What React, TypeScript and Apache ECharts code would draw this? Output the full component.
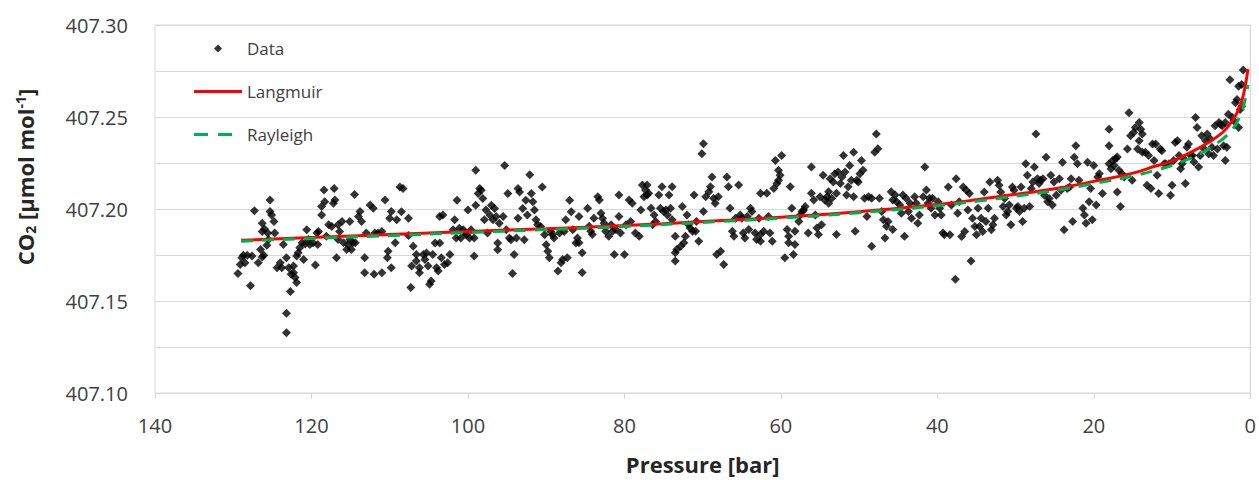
import React, { useEffect, useRef } from "react";
import * as echarts from "echarts";

// Measured points [pressure (bar), CO2 (µmol/mol)], grouped by pressure range
const data130to109: [number, number][] = [
  [129.4, 407.1649], [129.1, 407.1699], [128.9, 407.1735], [128.7, 407.1749], [128.5, 407.1708],
  [128.2, 407.1749], [127.8, 407.1583], [127.3, 407.199], [127.6, 407.1744], [126.8, 407.1708],
  [126.5, 407.178], [126.3, 407.1739], [126.1, 407.1749], [126.3, 407.1878], [126.3, 407.1923],
  [126.0, 407.1891], [125.7, 407.1803], [125.5, 407.1834], [125.6, 407.187], [125.3, 407.2049],
  [125.3, 407.1986], [124.8, 407.1932], [124.7, 407.187], [125.1, 407.1968], [124.4, 407.1681],
  [124.0, 407.1708], [123.8, 407.1681], [123.6, 407.1807], [123.2, 407.1735], [122.9, 407.1681],
  [123.2, 407.1434], [123.2, 407.1328], [122.7, 407.1552], [122.6, 407.1646], [122.3, 407.1654],
  [122.1, 407.1628], [121.9, 407.1601], [122.3, 407.169], [121.9, 407.1744], [121.7, 407.1762],
  [121.5, 407.1789], [121.2, 407.1816], [121.0, 407.1726], [120.8, 407.181], [120.6, 407.1887],
  [120.4, 407.1834], [120.2, 407.1807], [119.8, 407.1816], [119.5, 407.1696], [119.3, 407.187],
  [119.1, 407.1878], [119.2, 407.1807], [118.7, 407.1968], [118.7, 407.2013], [118.4, 407.2103],
  [118.3, 407.204], [118.1, 407.1852], [117.8, 407.1914], [117.4, 407.1905], [117.2, 407.2031],
  [117.1, 407.2111], [117.0, 407.2049], [116.8, 407.1735], [116.6, 407.1834], [116.4, 407.1878],
  [116.6, 407.1914], [116.1, 407.1932], [115.9, 407.1816], [115.5, 407.178], [115.3, 407.1807],
  [115.1, 407.1932], [115.1, 407.1834], [114.9, 407.178], [114.7, 407.1816], [114.5, 407.2079],
  [114.4, 407.1816], [114.0, 407.1959], [113.8, 407.1986], [113.6, 407.1932], [113.2, 407.1735],
  [113.2, 407.1654], [113.0, 407.187], [112.5, 407.2022], [112.1, 407.2004], [112.0, 407.1646],
  [111.9, 407.187], [111.5, 407.187], [111.0, 407.1654], [111.0, 407.1878], [110.6, 407.2049],
  [110.3, 407.1735], [110.2, 407.1771], [109.8, 407.1681], [110.0, 407.195], [109.8, 407.1986],
  [109.3, 407.1816], [109.1, 407.1941],
];

const data109to86: [number, number][] = [
  [108.7, 407.212], [108.3, 407.2111], [108.5, 407.1985], [107.6, 407.195], [107.6, 407.1856],
  [107.3, 407.1573], [107.0, 407.1797], [106.6, 407.1753], [106.6, 407.1717], [107.2, 407.169],
  [106.2, 407.1681], [106.2, 407.1654], [105.7, 407.1753], [105.5, 407.1726], [105.3, 407.1761],
  [105.1, 407.169], [104.9, 407.1591], [104.7, 407.1609], [104.5, 407.1753], [104.2, 407.1815],
  [104.0, 407.1681], [103.8, 407.1663], [103.6, 407.1959], [103.6, 407.1815], [103.4, 407.1735],
  [103.2, 407.1968], [103.0, 407.1699], [102.6, 407.1708], [102.3, 407.1753], [101.9, 407.1887],
  [101.7, 407.1941], [101.5, 407.1842], [101.4, 407.2048], [101.1, 407.1896], [100.9, 407.1842],
  [100.6, 407.1887], [100.4, 407.1869], [100.2, 407.186], [100.0, 407.1994], [99.8, 407.1842],
  [99.6, 407.1887], [99.2, 407.1744], [99.2, 407.1842], [99.0, 407.221], [99.0, 407.2021],
  [98.7, 407.2084], [98.5, 407.2111], [98.3, 407.2102], [98.1, 407.2057], [97.9, 407.1941],
  [97.7, 407.1994], [97.5, 407.1869], [97.2, 407.1968], [97.0, 407.2021], [96.8, 407.1941],
  [96.6, 407.2003], [96.4, 407.1959], [96.2, 407.1815], [96.2, 407.1779], [96.0, 407.1923],
  [95.5, 407.1959], [95.3, 407.2236], [95.1, 407.1887], [94.9, 407.2084], [94.7, 407.1842],
  [94.5, 407.1833], [94.3, 407.1649], [94.1, 407.1753], [93.8, 407.1842], [93.6, 407.2111],
  [93.6, 407.195], [93.4, 407.2093], [93.0, 407.2003], [92.8, 407.1833], [92.6, 407.2048],
  [92.4, 407.1968], [92.1, 407.2186], [91.9, 407.2084], [91.7, 407.2039], [91.5, 407.1994],
  [91.3, 407.1941], [91.1, 407.1914], [90.7, 407.1905], [90.5, 407.212], [90.2, 407.186],
  [90.0, 407.1806], [89.8, 407.177], [89.6, 407.1735], [89.4, 407.1878], [89.2, 407.186],
  [89.0, 407.1842], [88.5, 407.1663], [88.3, 407.1869], [88.1, 407.1708], [87.9, 407.1726],
  [87.7, 407.1878], [87.5, 407.1941], [87.3, 407.1735], [87.0, 407.2048], [86.8, 407.1985],
  [86.6, 407.1887], [86.2, 407.1815], [86.0, 407.1842],
];

const data86to63: [number, number][] = [
  [85.8, 407.1959], [85.8, 407.1816], [85.4, 407.1762], [85.4, 407.1655], [84.7, 407.2004],
  [84.5, 407.1906], [84.3, 407.1879], [84.1, 407.1861], [83.9, 407.195], [83.4, 407.2067],
  [83.2, 407.2049], [83.0, 407.1977], [82.8, 407.195], [82.6, 407.1923], [82.4, 407.1879],
  [82.0, 407.1852], [81.7, 407.1915], [81.5, 407.1879], [81.3, 407.1753], [81.1, 407.1888],
  [80.7, 407.1959], [80.7, 407.2076], [80.5, 407.187], [80.0, 407.1753], [79.8, 407.1915],
  [79.4, 407.2049], [79.2, 407.1932], [79.0, 407.2031], [78.6, 407.187], [78.1, 407.1852],
  [77.9, 407.1995], [77.7, 407.213], [77.5, 407.2067], [77.3, 407.2103], [77.1, 407.2076],
  [76.9, 407.2085], [77.1, 407.213], [76.6, 407.2004], [76.4, 407.1915], [76.2, 407.1968],
  [76.0, 407.1932], [75.6, 407.2076], [75.4, 407.2004], [75.2, 407.2121], [75.0, 407.1986],
  [74.7, 407.1995], [74.5, 407.1968], [74.3, 407.2076], [74.1, 407.2004], [73.9, 407.2121],
  [73.9, 407.1941], [73.5, 407.1852], [73.5, 407.1762], [73.3, 407.178], [73.5, 407.1717],
  [72.8, 407.1798], [72.6, 407.2013], [72.4, 407.1816], [72.2, 407.1852], [72.0, 407.1968],
  [71.8, 407.1915], [71.6, 407.1897], [71.3, 407.1879], [71.1, 407.2076], [70.9, 407.1879],
  [70.8, 407.1932], [70.5, 407.1825], [70.1, 407.23], [69.9, 407.2354], [69.6, 407.2067],
  [69.9, 407.1986], [69.2, 407.2094], [69.0, 407.2121], [68.8, 407.2174], [68.6, 407.2058],
  [68.4, 407.2031], [68.2, 407.1753], [68.0, 407.2067], [67.7, 407.1771], [67.3, 407.1699],
  [66.9, 407.2174], [66.7, 407.2121], [66.5, 407.2004], [66.2, 407.1879], [66.0, 407.1852],
  [65.8, 407.195], [65.4, 407.213], [65.2, 407.1968], [65.0, 407.195], [64.8, 407.187],
  [64.6, 407.1843], [64.3, 407.1959], [64.1, 407.1888], [63.9, 407.2004], [63.7, 407.1986],
  [63.3, 407.187], [63.1, 407.1834],
];

const data63to40: [number, number][] = [
  [62.6, 407.2085], [62.8, 407.195], [62.6, 407.1861], [62.6, 407.1825], [62.2, 407.1879],
  [61.8, 407.2085], [61.6, 407.1959], [61.4, 407.187], [61.1, 407.1825], [60.9, 407.2112],
  [60.7, 407.2264], [60.5, 407.2139], [60.3, 407.2156], [60.3, 407.221], [60.1, 407.2183],
  [59.9, 407.2291], [59.5, 407.1735], [59.2, 407.1888], [59.0, 407.1852], [59.0, 407.1816],
  [58.8, 407.2121], [58.6, 407.2004], [58.4, 407.1753], [58.2, 407.1879], [58.2, 407.1807],
  [57.7, 407.1932], [57.5, 407.1968], [57.3, 407.1986], [57.1, 407.1995], [56.9, 407.2013],
  [56.5, 407.187], [56.1, 407.2085], [56.1, 407.2228], [55.8, 407.2049], [55.6, 407.1968],
  [55.4, 407.1897], [55.2, 407.1861], [55.0, 407.2067], [54.8, 407.1915], [54.6, 407.2183],
  [54.4, 407.2049], [54.1, 407.2067], [53.9, 407.2094], [53.9, 407.2031], [53.7, 407.2165],
  [53.5, 407.2058], [53.3, 407.2147], [53.1, 407.2192], [52.9, 407.2085], [52.9, 407.1861],
  [52.7, 407.2201], [52.4, 407.2139], [52.2, 407.2174], [52.0, 407.2291], [51.8, 407.2201],
  [51.6, 407.2076], [51.4, 407.2121], [51.2, 407.2237], [51.0, 407.2156], [50.7, 407.2309],
  [50.7, 407.2067], [50.5, 407.1879], [50.3, 407.2156], [50.1, 407.2147], [49.9, 407.2192],
  [49.7, 407.2264], [49.5, 407.221], [49.3, 407.2058], [49.0, 407.1959], [48.8, 407.2067],
  [48.4, 407.1798], [48.4, 407.2058], [48.0, 407.2309], [47.8, 407.2407], [47.6, 407.2327],
  [47.4, 407.2058], [47.1, 407.1986], [46.9, 407.1941], [46.7, 407.1843], [46.5, 407.1906],
  [46.3, 407.1932], [45.9, 407.2094], [45.7, 407.2049], [45.7, 407.1888], [45.4, 407.2076],
  [45.2, 407.204], [44.8, 407.2022], [44.6, 407.1977], [44.4, 407.2076], [44.2, 407.1852],
  [44.0, 407.2058], [43.7, 407.1986], [43.5, 407.2031], [43.3, 407.195], [42.9, 407.2067],
  [42.7, 407.2031], [42.5, 407.1923], [42.3, 407.1968], [41.8, 407.2067], [41.6, 407.2228],
  [41.4, 407.2103], [41.2, 407.2031], [41.0, 407.2058], [40.8, 407.2004], [40.6, 407.2058],
  [40.3, 407.1968],
];

const data40to19: [number, number][] = [
  [39.9, 407.2039], [39.7, 407.2004], [39.5, 407.1968], [39.3, 407.1869], [39.1, 407.186],
  [38.6, 407.212], [38.4, 407.186], [38.2, 407.2022], [37.7, 407.1618], [37.6, 407.2165],
  [37.4, 407.1977], [37.2, 407.2039], [36.9, 407.1851], [36.7, 407.212], [36.5, 407.1878],
  [36.3, 407.2102], [36.1, 407.1995], [35.9, 407.2084], [35.7, 407.1717], [35.5, 407.195],
  [35.2, 407.1905], [35.0, 407.186], [34.8, 407.2004], [34.6, 407.1905], [34.4, 407.195],
  [34.2, 407.1878], [34.0, 407.2093], [33.8, 407.1932], [33.5, 407.2004], [33.3, 407.2147],
  [33.1, 407.1887], [32.9, 407.1914], [32.7, 407.195], [32.3, 407.2156], [32.1, 407.2129],
  [31.9, 407.2093], [31.6, 407.2013], [31.4, 407.2057], [31.2, 407.1968], [31.0, 407.1986],
  [30.8, 407.2022], [30.6, 407.1914], [30.4, 407.212], [30.2, 407.2102], [29.9, 407.2004],
  [29.7, 407.2013], [29.5, 407.1986], [29.3, 407.212], [29.1, 407.1932], [28.9, 407.2004],
  [28.7, 407.2246], [28.5, 407.2183], [28.2, 407.2013], [28.0, 407.2111], [27.8, 407.2147],
  [27.6, 407.2228], [27.4, 407.2407], [27.2, 407.2165], [27.0, 407.2138], [26.8, 407.2156],
  [26.5, 407.2165], [26.3, 407.2075], [26.1, 407.2281], [25.9, 407.2039], [25.7, 407.2057],
  [25.5, 407.2183], [25.3, 407.2022], [25.1, 407.2147], [24.8, 407.2075], [24.4, 407.2165],
  [24.2, 407.2102], [24.0, 407.2254], [23.8, 407.1887], [23.4, 407.2111], [23.1, 407.212],
  [22.9, 407.2165], [22.7, 407.1932], [22.5, 407.2281], [22.3, 407.2344], [22.1, 407.2246],
  [21.9, 407.2156], [21.4, 407.2004], [21.2, 407.1968], [21.0, 407.1923], [20.8, 407.2254],
  [20.6, 407.2039], [20.4, 407.2111], [20.2, 407.1941], [20.0, 407.2237], [19.7, 407.2022],
  [19.5, 407.2174], [19.3, 407.2192], [18.9, 407.2084],
];

const data19to0: [number, number][] = [
  [18.05, 407.2434], [18.05, 407.2344], [18.05, 407.2246], [17.8, 407.2219], [17.6, 407.2264],
  [17.4, 407.2237], [17.2, 407.2273], [17.0, 407.2282], [17.0, 407.2093], [16.8, 407.221],
  [16.6, 407.2013], [16.4, 407.2192], [16.1, 407.2174], [15.7, 407.2326], [15.5, 407.2523],
  [15.3, 407.2398], [15.1, 407.2156], [14.9, 407.2416], [14.7, 407.2443], [14.4, 407.2326],
  [14.2, 407.247], [14.2, 407.2371], [14.0, 407.2434], [13.8, 407.2407], [13.8, 407.2308],
  [13.4, 407.2308], [13.2, 407.2129], [13.0, 407.2291], [12.7, 407.2111], [12.5, 407.2353],
  [12.3, 407.2264], [12.1, 407.2353], [11.9, 407.2183], [11.7, 407.2084], [11.5, 407.2326],
  [11.3, 407.2317], [11.0, 407.2246], [10.8, 407.2246], [10.4, 407.2246], [10.2, 407.2075],
  [10.0, 407.2129], [9.8, 407.2264], [9.6, 407.2362], [9.3, 407.2371], [9.1, 407.2291],
  [8.9, 407.2219], [8.7, 407.2246], [8.5, 407.2273], [8.3, 407.2138], [8.1, 407.2335],
  [7.9, 407.2353], [7.6, 407.2291], [7.4, 407.2291], [7.2, 407.2255], [7.0, 407.2497],
  [6.8, 407.2443], [6.6, 407.2228], [6.4, 407.2291], [6.2, 407.2398], [5.9, 407.2326],
  [5.7, 407.2371], [5.5, 407.2407], [5.3, 407.2299], [5.1, 407.238], [4.9, 407.2335],
  [4.7, 407.2291], [4.5, 407.2452], [4.2, 407.2326], [4.0, 407.247], [3.8, 407.2461],
  [3.6, 407.2452], [3.4, 407.2344], [3.2, 407.2264], [3.0, 407.2335], [3.2, 407.247],
  [2.8, 407.2515], [2.6, 407.2703], [2.3, 407.2497], [2.1, 407.2479], [1.9, 407.2577],
  [1.7, 407.2595], [1.5, 407.2667], [1.5, 407.2443], [1.3, 407.2541], [1.1, 407.2559],
  [1.1, 407.2676], [0.9, 407.2756],
];

// Model curves
const curvePressure = [129, 120, 110, 100, 90, 80, 70, 60, 50, 40, 35, 30, 25, 20, 15, 12, 10, 8, 6, 4, 3, 2, 1.5, 1, 0.6, 0.3];
const langmuirCO2 = [
  407.183, 407.1845, 407.1862, 407.1878, 407.1893, 407.191, 407.1932, 407.1955, 407.1985, 407.2025,
  407.205, 407.208, 407.211, 407.215, 407.2195, 407.2235, 407.226, 407.23, 407.2345, 407.24,
  407.244, 407.25, 407.254, 407.26, 407.268, 407.276,
];
const rayleighCO2 = [
  407.1825, 407.184, 407.1855, 407.1872, 407.1888, 407.1905, 407.1927, 407.195, 407.198, 407.2018,
  407.2042, 407.207, 407.21, 407.2138, 407.218, 407.2212, 407.2238, 407.227, 407.231, 407.2365,
  407.24, 407.245, 407.2488, 407.254, 407.2605, 407.2675,
];

const xTickInterval = 20;
const yTickInterval = 0.025;

const FONT = "'Open Sans', 'Noto Sans', 'DejaVu Sans', sans-serif";
const GRID_COLOR = "#d9d9d9";
const LABEL_COLOR = "#404040";
const TITLE_COLOR = "#262626";
const RED = "#ff0000";
const GREEN = "#00b050";

// Legend icons (48 x 8 box): small diamond, solid bar, dashed bar
const ICON_DIAMOND = "path://M20,4L24,0L28,4L24,8ZM0,4L0.01,4ZM48,4L47.99,4Z";
const ICON_SOLID = "path://M0,2.5L48,2.5L48,5.5L0,5.5ZM0,0L0.01,0ZM0,8L0.01,8Z";
const ICON_DASHED = "path://M0,2.5L14,2.5L14,5.5L0,5.5ZM24,2.5L38,2.5L38,5.5L24,5.5ZM48,0L47.99,0ZM48,8L47.99,8ZM0,0L0.01,0Z";

export default function App() {
  const ref = useRef<HTMLDivElement>(null);

  useEffect(() => {
    if (!ref.current) return;
    const chart = echarts.init(ref.current, null, { renderer: "svg" });
    const allData = [
      ...data130to109,
      ...data109to86,
      ...data86to63,
      ...data63to40,
      ...data40to19,
      ...data19to0,
    ];
    chart.setOption({
      animation: false,
      backgroundColor: "#ffffff",
      textStyle: { fontFamily: FONT },
      grid: {
        left: 155,
        right: 4,
        top: 25,
        bottom: 83,
        show: true,
        borderColor: GRID_COLOR,
        borderWidth: 1,
        containLabel: false,
      },
      legend: {
        left: 194,
        top: 40,
        orient: "vertical",
        padding: 0,
        itemWidth: 48,
        itemHeight: 8,
        itemGap: 26,
        textStyle: { fontSize: 17, color: LABEL_COLOR, fontFamily: FONT },
        data: [
          { name: "Data", icon: ICON_DIAMOND, itemStyle: { color: "#000000", borderWidth: 0 } },
          { name: "Langmuir", icon: ICON_SOLID, itemStyle: { color: RED, borderWidth: 0 } },
          { name: "Rayleigh", icon: ICON_DASHED, itemStyle: { color: GREEN, borderWidth: 0 } },
        ],
      },
      xAxis: {
        type: "value",
        inverse: true,
        min: 0,
        max: 140,
        interval: xTickInterval,
        axisLine: { show: true, lineStyle: { color: GRID_COLOR, width: 1 } },
        axisTick: { show: true, length: 6, lineStyle: { color: GRID_COLOR } },
        splitLine: { show: false },
        axisLabel: { color: LABEL_COLOR, fontSize: 20, fontFamily: FONT, margin: 22 },
        name: "Pressure [bar]",
        nameLocation: "middle",
        nameGap: 60,
        nameTextStyle: { fontSize: 22, fontWeight: "bold", color: TITLE_COLOR, fontFamily: FONT },
      },
      yAxis: {
        type: "value",
        min: 407.1,
        max: 407.3,
        interval: yTickInterval,
        axisLine: { show: true, lineStyle: { color: GRID_COLOR, width: 1 } },
        axisTick: { show: false },
        splitLine: { show: true, lineStyle: { color: GRID_COLOR, width: 1 } },
        axisLabel: {
          color: LABEL_COLOR,
          fontSize: 20,
          fontFamily: FONT,
          margin: 27,
          formatter: (v: number) => (Math.round(v * 1000) % 50 === 0 ? v.toFixed(2) : ""),
        },
      },
      graphic: [
        {
          type: "text",
          x: 25,
          y: 177,
          rotation: Math.PI / 2,
          style: {
            text: "{a|CO}{s|2}{a| [µmol mol}{u|-1}{a|]}",
            align: "center",
            verticalAlign: "middle",
            textAlign: "center",
            textVerticalAlign: "middle",
            fill: TITLE_COLOR,
            fontFamily: FONT,
            fontSize: 22,
            fontWeight: "bold",
            rich: {
              a: { fontSize: 22, fontWeight: "bold", fontFamily: FONT, fill: TITLE_COLOR, height: 24 },
              s: { fontSize: 14, fontWeight: "bold", fontFamily: FONT, fill: TITLE_COLOR, verticalAlign: "bottom" },
              u: { fontSize: 14, fontWeight: "bold", fontFamily: FONT, fill: TITLE_COLOR, verticalAlign: "top" },
            },
          },
        },
      ],
      series: [
        {
          name: "Data",
          type: "scatter",
          symbol: "diamond",
          symbolSize: 9,
          itemStyle: { color: "#000000" },
          data: allData,
        },
        {
          name: "Langmuir",
          type: "line",
          symbol: "none",
          smooth: true,
          lineStyle: { color: RED, width: 3 },
          itemStyle: { color: RED },
          data: curvePressure.map((p, i) => [p, langmuirCO2[i]]),
        },
        {
          name: "Rayleigh",
          type: "line",
          symbol: "none",
          smooth: true,
          lineStyle: { color: GREEN, width: 3, type: [12, 9] },
          itemStyle: { color: GREEN },
          data: curvePressure.map((p, i) => [p, rayleighCO2[i]]),
        },
      ],
    });
    return () => chart.dispose();
  }, []);

  return (
    <div
      ref={ref}
      style={{ position: "absolute", left: 0, top: 0, width: 1259, height: 480, background: "#ffffff" }}
    />
  );
}
